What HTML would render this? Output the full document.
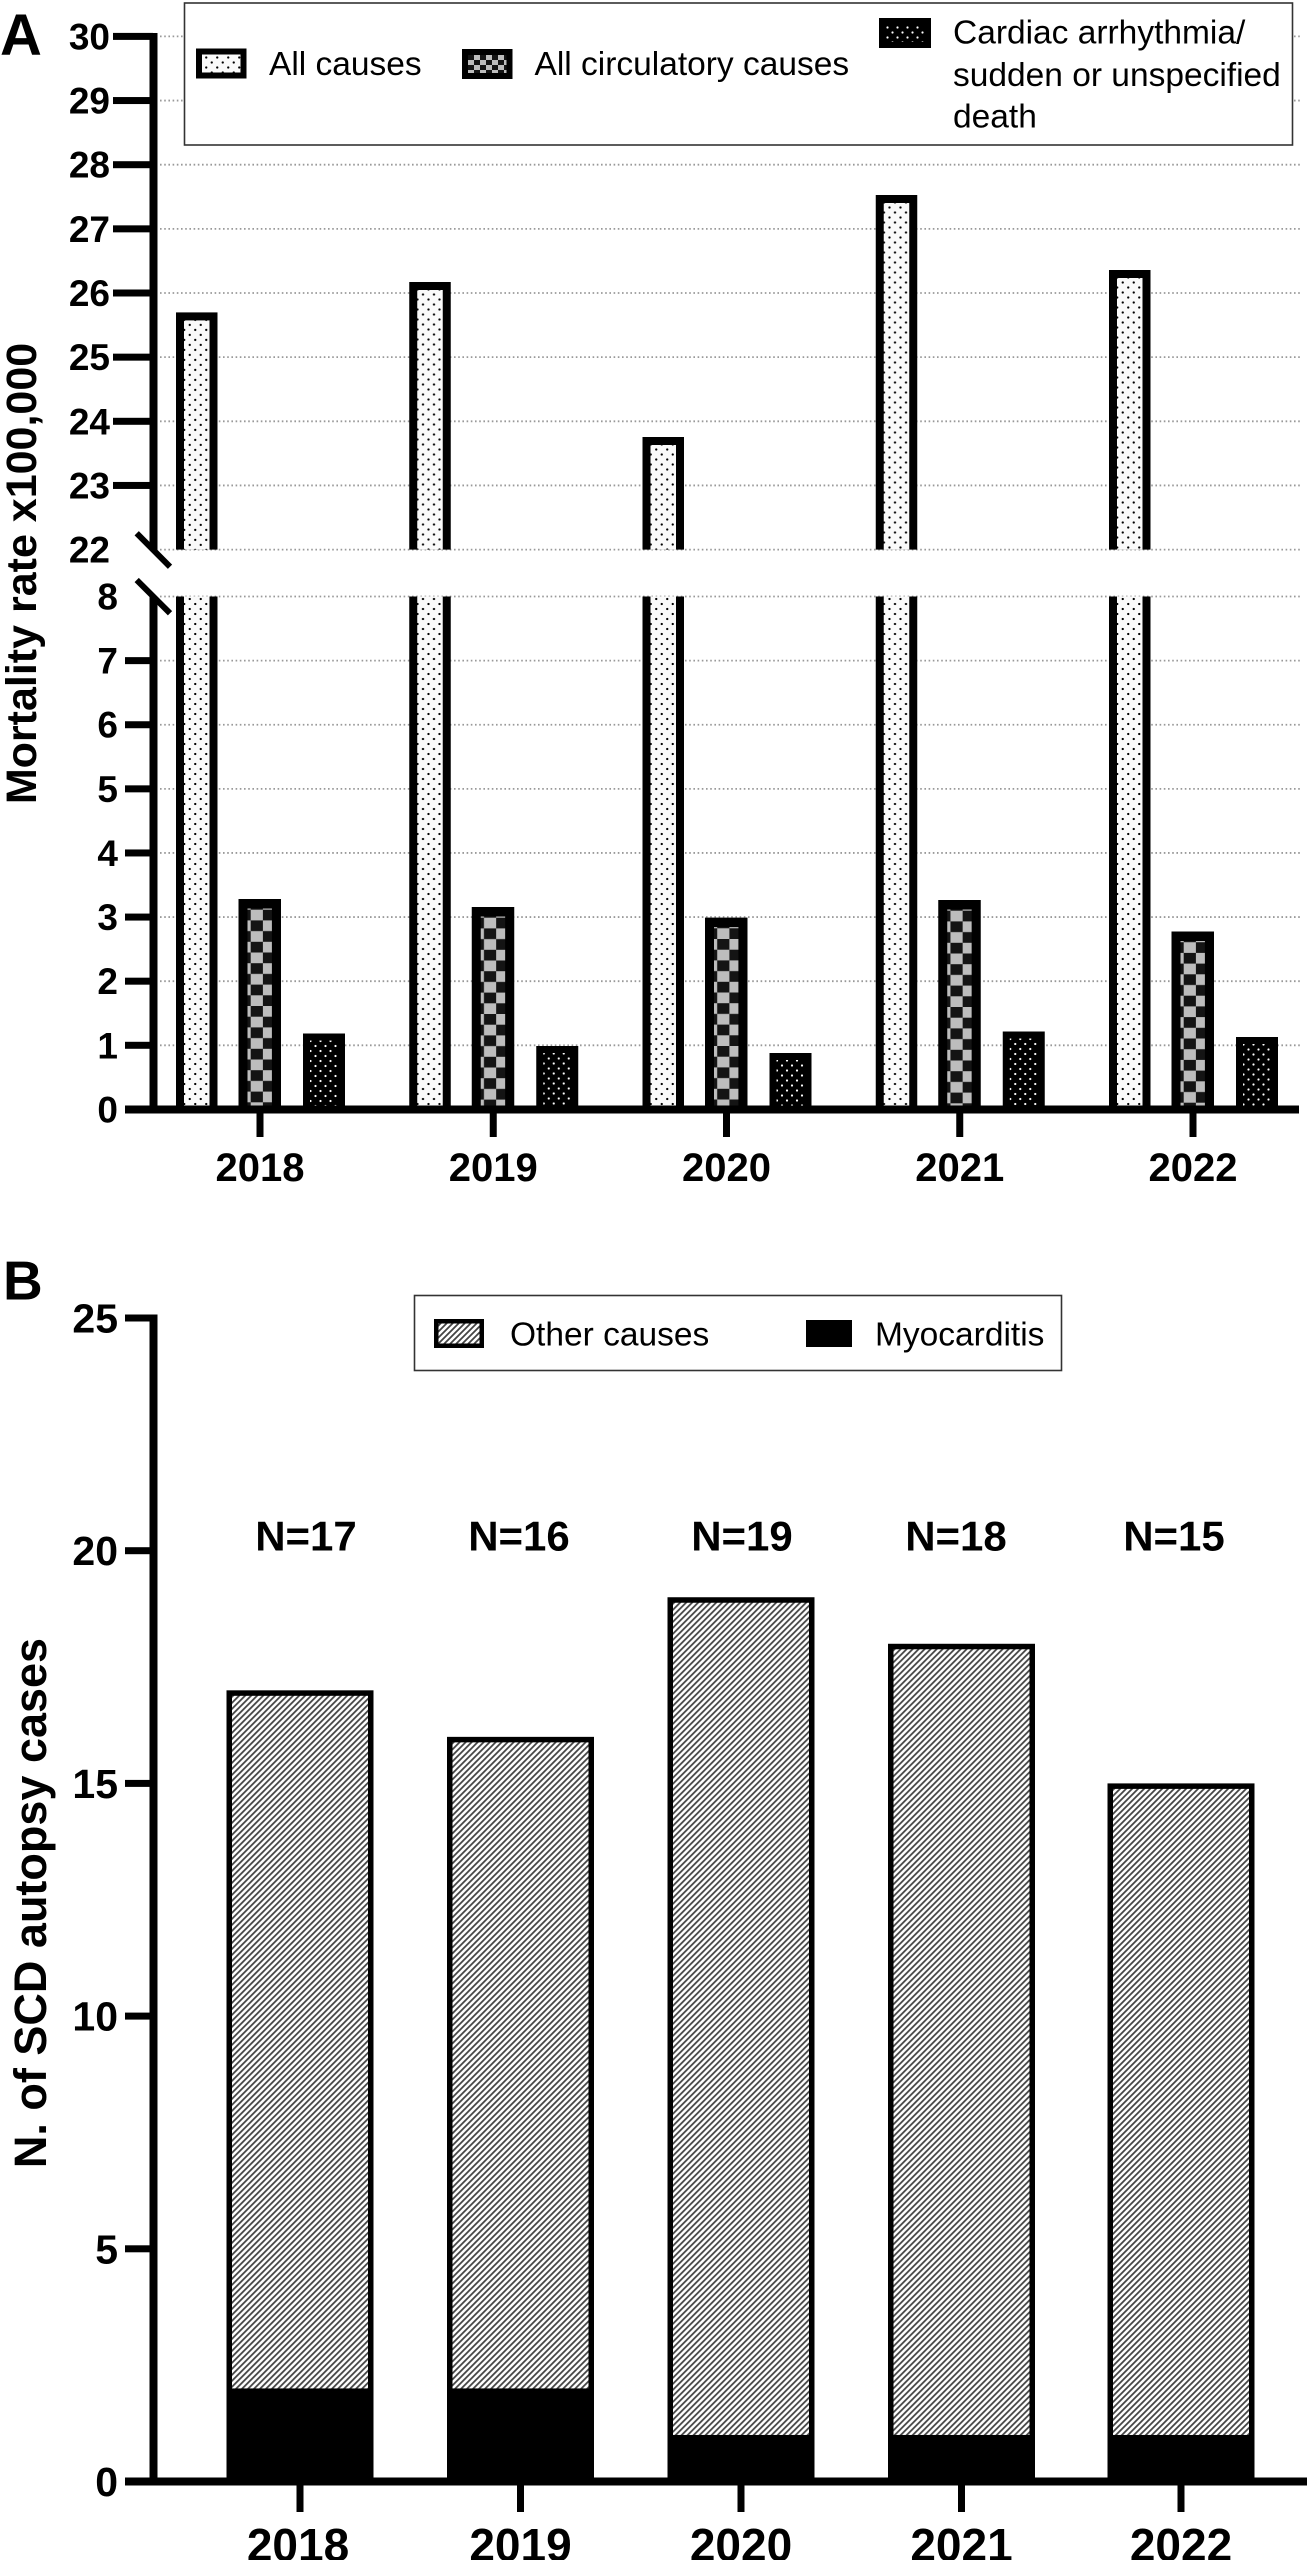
<!DOCTYPE html>
<html><head><meta charset="utf-8"><style>
html,body{margin:0;padding:0;background:#fff;}
svg{display:block;}
text{font-family:"Liberation Sans",Arial,sans-serif;fill:#000;}
.b{font-weight:bold;}
</style></head><body>
<svg width="1311" height="2560" viewBox="0 0 1311 2560" xmlns="http://www.w3.org/2000/svg">
<defs>
<pattern id="ldots" width="11" height="10" patternUnits="userSpaceOnUse">
<rect width="11" height="10" fill="#fafafa"/>
<circle cx="2.75" cy="2.5" r="1.15" fill="#000"/>
<circle cx="8.25" cy="7.5" r="1.15" fill="#000"/>
</pattern>
<pattern id="ddots" width="10" height="10" patternUnits="userSpaceOnUse">
<rect width="10" height="10" fill="#000"/>
<circle cx="2.5" cy="2.5" r="1.1" fill="#fff"/>
<circle cx="7.5" cy="7.5" r="1.1" fill="#fff"/>
</pattern>
<pattern id="check" width="24.4" height="21.4" patternUnits="userSpaceOnUse">
<rect width="24.4" height="21.4" fill="#bdbdbd"/>
<rect x="12.2" y="0" width="12.2" height="10.7" fill="#141414"/>
<rect x="0" y="10.7" width="12.2" height="10.7" fill="#141414"/>
</pattern>
<pattern id="lcheck" width="12" height="10" patternUnits="userSpaceOnUse">
<rect width="12" height="10" fill="#bdbdbd"/>
<rect x="6" y="0" width="6" height="5" fill="#141414"/>
<rect x="0" y="5" width="6" height="5" fill="#141414"/>
</pattern>
<pattern id="hatch" width="6" height="6" patternUnits="userSpaceOnUse">
<rect width="6" height="6" fill="#fff"/>
<path d="M-1.5,1.5 L1.5,-1.5 M0,6 L6,0 M4.5,7.5 L7.5,4.5" stroke="#444" stroke-width="1.8"/>
</pattern>
</defs>

<!-- ================= PANEL A ================= -->
<text class="b" x="0" y="55" font-size="58">A</text>

<!-- gridlines -->
<g stroke="#999" stroke-width="1.8" stroke-dasharray="1.6,2.6">
<line x1="160" y1="36.4" x2="1300" y2="36.4"/>
<line x1="160" y1="100.55" x2="1300" y2="100.55"/>
<line x1="160" y1="164.7" x2="1300" y2="164.7"/>
<line x1="160" y1="228.85" x2="1300" y2="228.85"/>
<line x1="160" y1="293" x2="1300" y2="293"/>
<line x1="160" y1="357.15" x2="1300" y2="357.15"/>
<line x1="160" y1="421.3" x2="1300" y2="421.3"/>
<line x1="160" y1="485.45" x2="1300" y2="485.45"/>
<line x1="160" y1="549.6" x2="1300" y2="549.6"/>
<line x1="160" y1="596.52" x2="1300" y2="596.52"/>
<line x1="160" y1="660.63" x2="1300" y2="660.63"/>
<line x1="160" y1="724.74" x2="1300" y2="724.74"/>
<line x1="160" y1="788.85" x2="1300" y2="788.85"/>
<line x1="160" y1="852.96" x2="1300" y2="852.96"/>
<line x1="160" y1="917.07" x2="1300" y2="917.07"/>
<line x1="160" y1="981.18" x2="1300" y2="981.18"/>
<line x1="160" y1="1045.29" x2="1300" y2="1045.29"/>
</g>

<!-- legend A -->
<rect x="184.5" y="3" width="1108" height="142" fill="#fff" stroke="#333" stroke-width="1.6"/>
<rect x="196" y="48.5" width="50.5" height="30" fill="#000"/>
<rect x="202" y="54.5" width="38.5" height="18" fill="url(#ldots)"/>
<text x="269" y="75" font-size="33.5">All causes</text>
<rect x="462" y="49" width="50.5" height="30" fill="#000"/>
<rect x="468" y="55" width="38.5" height="18" fill="url(#lcheck)"/>
<text x="534.5" y="75" font-size="33.5">All circulatory causes</text>
<rect x="879" y="18" width="52" height="30" fill="#000"/>
<rect x="885" y="24" width="40" height="18" fill="url(#ddots)"/>
<text x="953" y="43.5" font-size="33.5">Cardiac arrhythmia/</text>
<text x="953" y="86" font-size="33.5">sudden or unspecified</text>
<text x="953" y="127.5" font-size="33.5">death</text>

<!-- all causes bars upper segment -->
<g transform="translate(176,312.4)"><rect width="41.5" height="237.2" fill="#000"/><rect x="8" y="8" width="25.5" height="229.2" fill="url(#ldots)"/></g>
<g transform="translate(409.25,282)"><rect width="41.5" height="267.6" fill="#000"/><rect x="8" y="8" width="25.5" height="259.6" fill="url(#ldots)"/></g>
<g transform="translate(642.5,437)"><rect width="41.5" height="112.6" fill="#000"/><rect x="8" y="8" width="25.5" height="104.6" fill="url(#ldots)"/></g>
<g transform="translate(875.75,195)"><rect width="41.5" height="354.6" fill="#000"/><rect x="8" y="8" width="25.5" height="346.6" fill="url(#ldots)"/></g>
<g transform="translate(1109,270)"><rect width="41.5" height="279.6" fill="#000"/><rect x="8" y="8" width="25.5" height="271.6" fill="url(#ldots)"/></g>

<!-- all causes bars lower segment -->
<g transform="translate(176,596.5)"><rect width="41.5" height="512.9" fill="#000"/><rect x="8" y="0" width="25.5" height="512.9" fill="url(#ldots)"/></g>
<g transform="translate(409.25,596.5)"><rect width="41.5" height="512.9" fill="#000"/><rect x="8" y="0" width="25.5" height="512.9" fill="url(#ldots)"/></g>
<g transform="translate(642.5,596.5)"><rect width="41.5" height="512.9" fill="#000"/><rect x="8" y="0" width="25.5" height="512.9" fill="url(#ldots)"/></g>
<g transform="translate(875.75,596.5)"><rect width="41.5" height="512.9" fill="#000"/><rect x="8" y="0" width="25.5" height="512.9" fill="url(#ldots)"/></g>
<g transform="translate(1109,596.5)"><rect width="41.5" height="512.9" fill="#000"/><rect x="8" y="0" width="25.5" height="512.9" fill="url(#ldots)"/></g>

<!-- circulatory bars -->
<g transform="translate(238.5,899)"><rect width="42.5" height="210.4" fill="#000"/><rect x="9" y="9.5" width="24.4" height="200.9" fill="url(#check)"/></g>
<g transform="translate(471.75,907)"><rect width="42.5" height="202.4" fill="#000"/><rect x="9" y="9.5" width="24.4" height="192.9" fill="url(#check)"/></g>
<g transform="translate(705,917.6)"><rect width="42.5" height="191.8" fill="#000"/><rect x="9" y="9.5" width="24.4" height="182.3" fill="url(#check)"/></g>
<g transform="translate(938.25,900)"><rect width="42.5" height="209.4" fill="#000"/><rect x="9" y="9.5" width="24.4" height="199.9" fill="url(#check)"/></g>
<g transform="translate(1171.5,931.5)"><rect width="42.5" height="177.9" fill="#000"/><rect x="9" y="9.5" width="24.4" height="168.4" fill="url(#check)"/></g>

<!-- cardiac bars -->
<g transform="translate(303,1033.5)"><rect width="42" height="75.9" fill="#000"/><rect x="7" y="7" width="28" height="68.9" fill="url(#ddots)"/></g>
<g transform="translate(536.25,1046)"><rect width="42" height="63.4" fill="#000"/><rect x="7" y="7" width="28" height="56.4" fill="url(#ddots)"/></g>
<g transform="translate(769.5,1053)"><rect width="42" height="56.4" fill="#000"/><rect x="7" y="7" width="28" height="49.4" fill="url(#ddots)"/></g>
<g transform="translate(1002.75,1031.5)"><rect width="42" height="77.9" fill="#000"/><rect x="7" y="7" width="28" height="70.9" fill="url(#ddots)"/></g>
<g transform="translate(1236,1037)"><rect width="42" height="72.4" fill="#000"/><rect x="7" y="7" width="28" height="65.4" fill="url(#ddots)"/></g>

<!-- axes A -->
<rect x="149.5" y="33" width="8" height="517" fill="#000"/>
<rect x="149.5" y="596.5" width="8" height="516.5" fill="#000"/>
<line x1="136.7" y1="533.3" x2="170" y2="566.7" stroke="#000" stroke-width="6"/>
<line x1="136.7" y1="580" x2="170" y2="613.3" stroke="#000" stroke-width="6"/>
<rect x="125" y="1105.5" width="1174" height="8" fill="#000"/>
<g fill="#000">
<rect x="113" y="32.9" width="40" height="7"/>
<rect x="113" y="97.05" width="40" height="7"/>
<rect x="113" y="161.2" width="40" height="7"/>
<rect x="113" y="225.35" width="40" height="7"/>
<rect x="113" y="289.5" width="40" height="7"/>
<rect x="113" y="353.65" width="40" height="7"/>
<rect x="113" y="417.8" width="40" height="7"/>
<rect x="113" y="481.95" width="40" height="7"/>
<rect x="125" y="657.13" width="28" height="7"/>
<rect x="125" y="721.24" width="28" height="7"/>
<rect x="125" y="785.35" width="28" height="7"/>
<rect x="125" y="849.46" width="28" height="7"/>
<rect x="125" y="913.57" width="28" height="7"/>
<rect x="125" y="977.68" width="28" height="7"/>
<rect x="125" y="1041.79" width="28" height="7"/>
<rect x="256.5" y="1113" width="7" height="24"/>
<rect x="489.75" y="1113" width="7" height="24"/>
<rect x="723" y="1113" width="7" height="24"/>
<rect x="956.25" y="1113" width="7" height="24"/>
<rect x="1189.5" y="1113" width="7" height="24"/>
</g>
<g class="b" font-size="37" text-anchor="end">
<text class="b" x="110" y="49.4">30</text>
<text class="b" x="110" y="113.55">29</text>
<text class="b" x="110" y="177.7">28</text>
<text class="b" x="110" y="241.85">27</text>
<text class="b" x="110" y="306">26</text>
<text class="b" x="110" y="370.15">25</text>
<text class="b" x="110" y="434.3">24</text>
<text class="b" x="110" y="498.45">23</text>
<text class="b" x="110" y="562.6">22</text>
<text class="b" x="118" y="609.5">8</text>
<text class="b" x="118" y="673.6">7</text>
<text class="b" x="118" y="737.7">6</text>
<text class="b" x="118" y="801.8">5</text>
<text class="b" x="118" y="865.9">4</text>
<text class="b" x="118" y="930">3</text>
<text class="b" x="118" y="994.2">2</text>
<text class="b" x="118" y="1058.3">1</text>
<text class="b" x="118" y="1122.4">0</text>
</g>
<g font-size="40" text-anchor="middle">
<text class="b" x="260" y="1181">2018</text>
<text class="b" x="493.25" y="1181">2019</text>
<text class="b" x="726.5" y="1181">2020</text>
<text class="b" x="959.75" y="1181">2021</text>
<text class="b" x="1193" y="1181">2022</text>
</g>
<text class="b" font-size="43" text-anchor="middle" transform="translate(36,573.5) rotate(-90)">Mortality rate x100,000</text>

<!-- ================= PANEL B ================= -->
<text class="b" x="3" y="1299.5" font-size="55">B</text>

<rect x="414.5" y="1295.5" width="647" height="75" fill="#fff" stroke="#333" stroke-width="1.6"/>
<rect x="434" y="1319" width="50" height="29" fill="#000"/>
<rect x="438.5" y="1323.5" width="41" height="20" fill="url(#hatch)"/>
<text x="510" y="1345.5" font-size="33.5">Other causes</text>
<rect x="806" y="1320" width="46" height="27" fill="#000"/>
<text x="875" y="1345.5" font-size="33.5">Myocarditis</text>

<g font-size="42" text-anchor="middle">
<text class="b" x="306" y="1550.5">N=17</text>
<text class="b" x="519" y="1550.5">N=16</text>
<text class="b" x="742" y="1550.5">N=19</text>
<text class="b" x="956" y="1550.5">N=18</text>
<text class="b" x="1174" y="1550.5">N=15</text>
</g>

<!-- bars B -->
<g transform="translate(226.5,1690.32)"><rect width="147" height="791.18" fill="#000"/><rect x="5.5" y="5.5" width="136" height="692.6" fill="url(#hatch)"/></g>
<g transform="translate(447,1736.86)"><rect width="147" height="744.64" fill="#000"/><rect x="5.5" y="5.5" width="136" height="646.06" fill="url(#hatch)"/></g>
<g transform="translate(667.5,1597.24)"><rect width="147" height="884.26" fill="#000"/><rect x="5.5" y="5.5" width="136" height="832.22" fill="url(#hatch)"/></g>
<g transform="translate(888,1643.78)"><rect width="147" height="837.72" fill="#000"/><rect x="5.5" y="5.5" width="136" height="785.68" fill="url(#hatch)"/></g>
<g transform="translate(1107.5,1783.4)"><rect width="147" height="698.1" fill="#000"/><rect x="5.5" y="5.5" width="136" height="646.06" fill="url(#hatch)"/></g>

<!-- axes B -->
<rect x="149.5" y="1314.5" width="8" height="1171" fill="#000"/>
<rect x="125" y="2477.5" width="1182" height="8" fill="#000"/>
<g fill="#000">
<rect x="125" y="1314.5" width="28" height="7"/>
<rect x="125" y="1547.2" width="28" height="7"/>
<rect x="125" y="1779.9" width="28" height="7"/>
<rect x="125" y="2012.6" width="28" height="7"/>
<rect x="125" y="2245.3" width="28" height="7"/>
<rect x="296.5" y="2485" width="7" height="27"/>
<rect x="517" y="2485" width="7" height="27"/>
<rect x="737.5" y="2485" width="7" height="27"/>
<rect x="958" y="2485" width="7" height="27"/>
<rect x="1177.5" y="2485" width="7" height="27"/>
</g>
<g font-size="41" text-anchor="end">
<text class="b" x="118" y="1332.5">25</text>
<text class="b" x="118" y="1565.2">20</text>
<text class="b" x="118" y="1797.9">15</text>
<text class="b" x="118" y="2030.6">10</text>
<text class="b" x="118" y="2263.3">5</text>
<text class="b" x="118" y="2496">0</text>
</g>
<g font-size="46" text-anchor="middle">
<text class="b" x="298" y="2561">2018</text>
<text class="b" x="520.5" y="2561">2019</text>
<text class="b" x="741" y="2561">2020</text>
<text class="b" x="961.5" y="2561">2021</text>
<text class="b" x="1181" y="2561">2022</text>
</g>
<text class="b" font-size="45" text-anchor="middle" transform="translate(46,1903) rotate(-90)">N. of SCD autopsy cases</text>
</svg>
</body></html>
